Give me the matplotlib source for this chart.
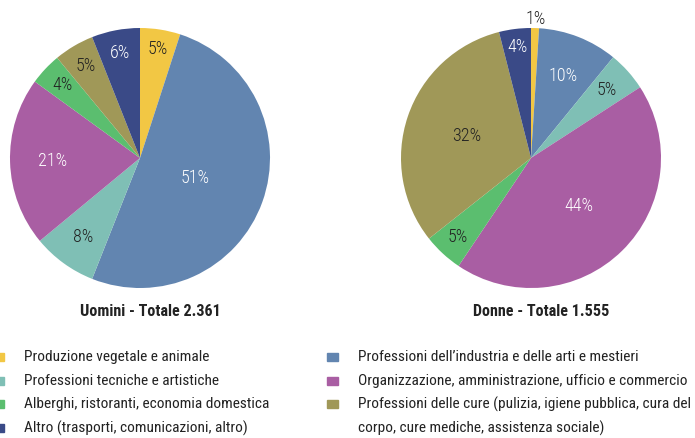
import matplotlib
matplotlib.use("Agg")
import matplotlib.pyplot as plt
from matplotlib.patches import Rectangle
import numpy as np

plt.rcParams['font.family'] = ['Roboto Condensed', 'DejaVu Sans']

# dati
categorie = [
    "Produzione vegetale e animale",
    "Professioni dell\u2019industria e delle arti e mestieri",
    "Professioni tecniche e artistiche",
    "Organizzazione, amministrazione, ufficio e commercio",
    "Alberghi, ristoranti, economia domestica",
    "Professioni delle cure (pulizia, igiene pubblica, cura del\ncorpo, cure mediche, assistenza sociale)",
    "Altro (trasporti, comunicazioni, altro)",
]
uomini = [5, 51, 8, 21, 4, 5, 6]
donne = [1, 10, 5, 44, 5, 32, 4]
titolo_uomini = "Uomini - Totale 2.361"
titolo_donne = "Donne - Totale 1.555"

colori = ["#F2C744", "#6285B0", "#7FBFB5", "#A95EA3", "#5BBE6F", "#A09858", "#3A4A87"]
col_testo = ["#222222", "white", "#222222", "white", "#222222", "#222222", "white"]

W, H = 695, 438
fig = plt.figure(figsize=(W / 100, H / 100), dpi=100)


def px(x, y):
    return x / W, 1 - y / H


def torta(cx, cy, r, valori, distanze, titolo, ty):
    ax = fig.add_axes([(cx - r) / W, 1 - (cy + r) / H, 2 * r / W, 2 * r / H])
    wedges, _ = ax.pie(valori, colors=colori, startangle=90, counterclock=False,
                       wedgeprops=dict(linewidth=0))
    for w, v, d, c in zip(wedges, valori, distanze, col_testo):
        ang = np.deg2rad((w.theta1 + w.theta2) / 2)
        ax.text(d * np.cos(ang), d * np.sin(ang), f"{v}%", ha="center", va="center",
                fontsize=13, color=c, fontweight="light")
    ax.set_xlim(-1, 1)
    ax.set_ylim(-1, 1)
    ax.set_aspect("equal")
    ax.axis("off")
    fig.text(*px(cx + 10, ty), titolo, ha="center", va="center", fontsize=11.6,
             fontweight="bold", color="#222222")
    return ax


torta(140, 158, 130, uomini, [0.85, 0.45, 0.75, 0.67, 0.82, 0.82, 0.82],
      titolo_uomini, 311)
torta(531, 158, 130, donne, [1.07, 0.68, 0.78, 0.52, 0.83, 0.52, 0.86],
      titolo_donne, 311)

# legenda
ordine = [[0, 2, 4, 6], [1, 3, 5]]
colonne_x = [(-7, 24), (327, 358)]
righe_y = [357, 381, 404, 428]
for col, (mx, tx) in zip(ordine, colonne_x):
    for k, i in enumerate(col):
        y = righe_y[k]
        fig.patches.append(Rectangle(px(mx, y + 4), 11 / W, 8 / H, color=colori[i],
                                     transform=fig.transFigure, figure=fig))
        righe = categorie[i].split("\n")
        for j, t in enumerate(righe):
            fig.text(*px(tx, righe_y[k + j]), t, ha="left", va="center",
                     fontsize=11.1, color="#222222")

fig.savefig("out.png", dpi=100)
